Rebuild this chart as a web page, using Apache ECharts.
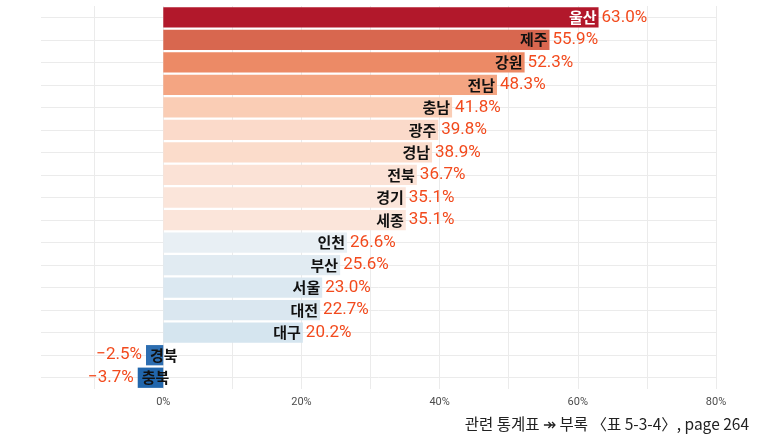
<!DOCTYPE html>
<html>
<head>
<meta charset="utf-8">
<script src="https://cdn.jsdelivr.net/npm/echarts@6/dist/echarts.min.js"></script>
<style>html,body{margin:0;padding:0;background:#fff}#c{width:760px;height:434px}</style>
</head>
<body>
<div id="c"></div>
<script>
const regions = ['울산','제주','강원','전남','충남','광주','경남','전북','경기','세종','인천','부산','서울','대전','대구','경북','충북'];
const values = [63.0,55.9,52.3,48.3,41.8,39.8,38.9,36.7,35.1,35.1,26.6,25.6,23.0,22.7,20.2,-2.5,-3.7];
const barColors = ['#B2182B','#D8674F','#EC8A66','#F4A582','#FACDB5','#FBDACA','#FBDCCB','#FBE2D6','#FBE5DA','#FBE5DA','#E8EFF4','#E1EBF2','#DBE8F1','#DAE7F0','#D5E5EF','#2D6EB1','#2166AC'];
const nameColors = ['#ffffff','#111','#111','#111','#111','#111','#111','#111','#111','#111','#111','#111','#111','#111','#111','#111','#111'];
const xTickValues = [-10,0,10,20,30,40,50,60,70,80];
const xLabelValues = [0,20,40,60,80];
const footnote = '관련 통계표 ↠ 부록 〈표 5-3-4〉, page 264';

const rowIdx = regions.map((_, i) => i);
const fmt = v => (v < 0 ? '\u2212' : '') + Math.abs(v).toFixed(1) + '%';

const chart = echarts.init(document.getElementById('c'), null, {renderer: 'canvas'});
chart.setOption({
  animation: false,
  backgroundColor: '#ffffff',
  title: {
    text: footnote,
    right: 11, bottom: 2, padding: 0,
    textStyle: {fontSize: 15.5, fontWeight: 'normal', color: '#222', fontFamily: '"Noto Sans CJK KR", sans-serif'}
  },
  grid: {left: 41, right: 44, top: 6, bottom: 45, containLabel: false},
  xAxis: {
    type: 'value', min: -17.7, max: 80,
    axisLine: {show: false},
    axisTick: {show: false, customValues: xTickValues},
    axisLabel: {customValues: xLabelValues, formatter: v => v + '%', color: '#4D4D4D', fontSize: 11, fontFamily: 'Roboto', margin: 8},
    splitLine: {show: true, lineStyle: {color: '#EBEBEB', width: 1}}
  },
  yAxis: [{
    type: 'category', data: regions, inverse: true,
    axisLine: {show: false}, axisTick: {show: false}, axisLabel: {show: false}, splitLine: {show: false}
  }, {
    type: 'value', min: -0.5, max: 16.5, inverse: true, position: 'left',
    axisLine: {show: false},
    axisTick: {show: false, customValues: rowIdx},
    axisLabel: {show: false, customValues: rowIdx},
    splitLine: {show: true, lineStyle: {color: '#EBEBEB', width: 1}}
  }],
  series: [{
    type: 'bar', yAxisIndex: 0, barWidth: '90%', barGap: '-100%',
    data: values.map((v, i) => ({
      value: v,
      itemStyle: {color: barColors[i]},
      label: {
        show: true,
        position: v < 0 ? 'insideLeft' : 'insideRight',
        distance: v < 0 ? 4 : 2,
        formatter: regions[i],
        color: nameColors[i],
        fontSize: 15, fontWeight: 'bold',
        fontFamily: '"Noto Sans CJK KR", sans-serif'
      }
    })),
    z: 2
  }, {
    type: 'bar', yAxisIndex: 0, barWidth: '90%', barGap: '-100%',
    data: values.map(v => ({
      value: v,
      label: {
        show: true,
        position: v < 0 ? 'left' : 'right',
        distance: v < 0 ? 4 : 3,
        formatter: fmt(v),
        color: '#F24A1D',
        fontSize: 17,
        fontFamily: 'Roboto'
      }
    })),
    itemStyle: {color: 'rgba(0,0,0,0)'},
    z: 3
  }]
});
</script>
</body>
</html>
